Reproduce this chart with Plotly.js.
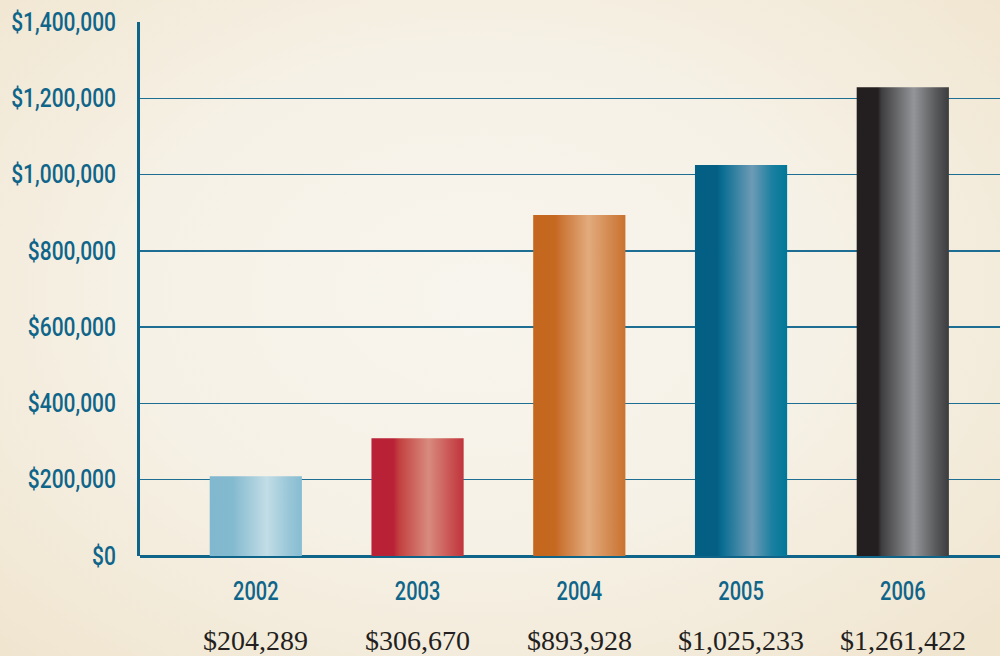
<!DOCTYPE html>
<html>
<head>
<meta charset="utf-8">
<script src="https://cdn.plot.ly/plotly-3.0.1.min.js"></script>
<style>
  html, body { margin:0; padding:0; width:1000px; height:656px; overflow:hidden; }
  body { background: radial-gradient(ellipse 70% 75% at 48% 45%, #f8f5ee 0%, #f6f1e6 50%, #f0e5cf 100%); }
  #chart { width:1000px; height:656px; }
</style>
</head>
<body>
<div id="chart"></div>
<script>
// ---- data ----
const years = ['2002', '2003', '2004', '2005', '2006'];
const barValues = [209000, 309000, 893928, 1025233, 1229000];   // bar heights as drawn
const valueLabels = ['$204,289', '$306,670', '$893,928', '$1,025,233', '$1,261,422'];
const yTickVals = [0, 200000, 400000, 600000, 800000, 1000000, 1200000, 1400000];
const yTickText = ['$0', '$200,000', '$400,000', '$600,000', '$800,000', '$1,000,000', '$1,200,000', '$1,400,000'];
const barGradients = [
  [[0,'#80b8cf'],[0.25,'#84bacf'],[0.62,'#c2dde6'],[0.85,'#9ac7d8'],[1,'#86bcd2']],
  [[0,'#b92236'],[0.24,'#b92236'],[0.3,'#c2403f'],[0.62,'#d88b7e'],[0.88,'#c84e4e'],[1,'#c0343c']],
  [[0,'#c4661e'],[0.24,'#c56820'],[0.3,'#cb7434'],[0.6,'#e2ab7d'],[0.86,'#d1854a'],[1,'#cb722f']],
  [[0,'#045f84'],[0.24,'#055f84'],[0.3,'#0a6e93'],[0.62,'#6d9bb5'],[0.84,'#1a7fa0'],[1,'#007899']],
  [[0,'#231f20'],[0.23,'#231f20'],[0.27,'#3e3e40'],[0.62,'#949598'],[0.86,'#58595b'],[1,'#3c3c3e']]
];

const teal = '#0f6589';
const barWidth = 0.57;
const xIdx = years.map((_, i) => i);

const traces = barValues.map((v, i) => ({
  type: 'scatter',
  mode: 'lines',
  x: [i - barWidth/2, i - barWidth/2, i + barWidth/2, i + barWidth/2, i - barWidth/2],
  y: [0, v, v, 0, 0],
  fill: 'toself',
  fillgradient: { type: 'horizontal', colorscale: barGradients[i] },
  line: { width: 0, color: 'rgba(0,0,0,0)' },
  hoverinfo: 'skip',
  showlegend: false
}));

const annotations = valueLabels.map((t, i) => ({
  x: i, xref: 'x', y: 0, yref: 'paper', yshift: -84,
  xanchor: 'center', yanchor: 'middle',
  text: t, showarrow: false,
  font: { family: 'Liberation Serif, DejaVu Serif, serif', size: 28, color: '#231f20' }
}));

const sansFont = 'Roboto, "DejaVu Sans Condensed", sans-serif';

const layout = {
  width: 1000, height: 656,
  margin: { l: 140, r: 0, t: 22, b: 100 },
  paper_bgcolor: 'rgba(0,0,0,0)',
  plot_bgcolor: 'rgba(0,0,0,0)',
  showlegend: false,
  xaxis: {
    range: [-0.716, 4.601],
    tickvals: xIdx, ticktext: years,
    showgrid: false, zeroline: false,
    showline: false,
    ticks: 'outside', ticklen: 13, tickcolor: 'rgba(0,0,0,0)',
    tickfont: { family: sansFont, size: 25, weight: 500, color: teal },
    fixedrange: true
  },
  yaxis: {
    range: [0, 1400000],
    tickvals: yTickVals, ticktext: yTickText,
    showgrid: true, gridcolor: '#1d6e92', gridwidth: 1.5,
    zeroline: true, zerolinecolor: teal, zerolinewidth: 3,
    showline: true, linecolor: teal, linewidth: 3,
    ticks: 'outside', ticklen: 16, tickcolor: 'rgba(0,0,0,0)',
    tickfont: { family: sansFont, size: 25, weight: 500, color: teal },
    fixedrange: true
  },
  annotations: annotations
};

// condense the sans tick labels horizontally (mimics a condensed typeface)
function condense(selector, s) {
  document.querySelectorAll(selector).forEach(t => {
    const x = parseFloat(t.getAttribute('x') || 0);
    const tr = t.getAttribute('transform') || '';
    t.setAttribute('transform', tr + ` translate(${x},0) scale(${s},1) translate(${-x},0)`);
  });
}

Plotly.newPlot('chart', traces, layout, { displayModeBar: false, staticPlot: true }).then(() => {
  condense('.ytick text', 0.84);
  condense('.xtick text', 0.8);
});
</script>
</body>
</html>
